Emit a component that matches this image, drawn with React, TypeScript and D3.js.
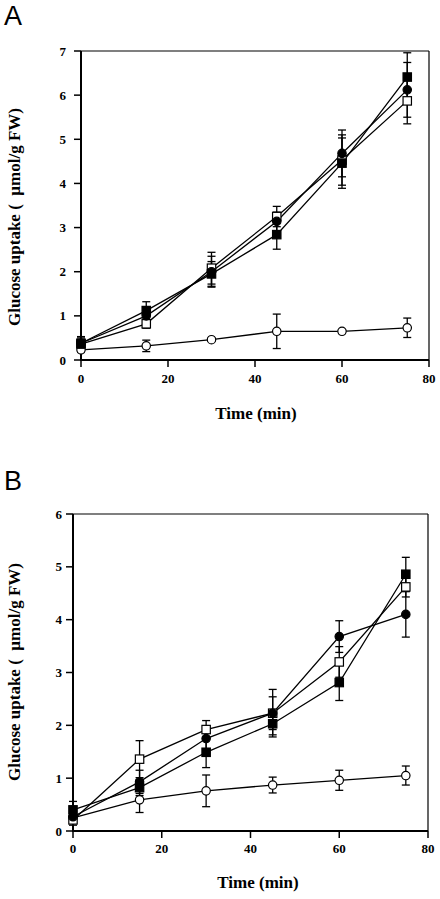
import React from "react";
import * as d3 from "d3";

const times = [0, 15, 30, 45, 60, 75];

// Panel A
const aFilledSquare = [0.38, 1.12, 1.95, 2.84, 4.46, 6.41];
const aFilledSquareErr = [0.15, 0.2, 0.28, 0.33, 0.57, 0.55];
const aFilledCircle = [0.38, 1.0, 2.0, 3.14, 4.68, 6.12];
const aFilledCircleErr = [0.12, 0.2, 0.35, 0.21, 0.53, 0.62];
const aOpenSquare = [0.36, 0.82, 2.08, 3.25, 4.53, 5.87];
const aOpenSquareErr = [0.1, 0.1, 0.36, 0.23, 0.57, 0.52];
const aOpenCircle = [0.23, 0.32, 0.46, 0.65, 0.65, 0.73];
const aOpenCircleErr = [0.05, 0.13, 0.03, 0.39, 0.03, 0.22];

// Panel B
const bFilledSquare = [0.4, 0.82, 1.49, 2.03, 2.81, 4.86];
const bFilledSquareErr = [0.16, 0.15, 0.29, 0.21, 0.34, 0.32];
const bFilledCircle = [0.27, 0.93, 1.75, 2.23, 3.68, 4.1];
const bFilledCircleErr = [0.1, 0.22, 0.2, 0.45, 0.3, 0.43];
const bOpenSquare = [0.21, 1.36, 1.92, 2.23, 3.2, 4.62];
const bOpenSquareErr = [0.1, 0.35, 0.17, 0.31, 0.29, 0.19];
const bOpenCircle = [0.25, 0.59, 0.76, 0.87, 0.96, 1.05];
const bOpenCircleErr = [0.1, 0.24, 0.3, 0.15, 0.19, 0.18];

const xTicks = [0, 20, 40, 60, 80];
const aYTicks = [0, 1, 2, 3, 4, 5, 6, 7];
const bYTicks = [0, 1, 2, 3, 4, 5, 6];

const yTitle = "Glucose uptake (\u2002µmol/g FW)";
const xTitle = "Time (min)";

type Series = { values: number[]; err: number[]; shape: "square" | "circle"; filled: boolean };

type PanelProps = {
  letter: string;
  letterY: number;
  left: number;
  right: number;
  top: number;
  bottom: number;
  yMax: number;
  yTicks: number[];
  series: Series[];
  xTickY: number;
  xTitleX: number;
  xTitleY: number;
  yTitleX: number;
  yTitleY: number;
  yTickX: number;
};

const serif = "'Liberation Serif', 'Times New Roman', serif";

function Panel(p: PanelProps) {
  const x = d3.scaleLinear().domain([0, 80]).range([p.left, p.right]);
  const y = d3.scaleLinear().domain([0, p.yMax]).range([p.bottom, p.top]);
  const line = d3
    .line<number>()
    .x((_, i) => x(times[i]))
    .y((d) => y(d));
  const ms = 4.2;
  return (
    <g>
      <text x={4} y={p.letterY} fontFamily="'Liberation Sans', Arial, sans-serif" fontSize={27}>
        {p.letter}
      </text>
      {/* frame */}
      <line x1={p.left} x2={p.right} y1={p.top} y2={p.top} stroke="#000" strokeWidth={1.2} />
      <line x1={p.right} x2={p.right} y1={p.top} y2={p.bottom} stroke="#000" strokeWidth={1.2} />
      <line x1={p.left} x2={p.left} y1={p.top} y2={p.bottom + 1} stroke="#000" strokeWidth={2} />
      <line x1={p.left - 1} x2={p.right} y1={p.bottom} y2={p.bottom} stroke="#000" strokeWidth={2} />
      {/* y ticks */}
      {p.yTicks.map((t) => (
        <g key={"y" + t}>
          <line x1={p.left - 7} x2={p.left} y1={y(t)} y2={y(t)} stroke="#000" strokeWidth={1.5} />
          <text
            x={p.yTickX}
            y={y(t) + 4.5}
            textAnchor="end"
            fontFamily={serif}
            fontWeight="bold"
            fontSize={13}
          >
            {t}
          </text>
        </g>
      ))}
      {xTicks.map((t) => (
        <g key={"x" + t}>
          <line x1={x(t)} x2={x(t)} y1={p.bottom} y2={p.bottom + 7} stroke="#000" strokeWidth={1.5} />
          <text x={x(t)} y={p.xTickY} textAnchor="middle" fontFamily={serif} fontWeight="bold" fontSize={13}>
            {t}
          </text>
        </g>
      ))}
      <text
        x={p.xTitleX}
        y={p.xTitleY}
        textAnchor="middle"
        fontFamily={serif}
        fontWeight="bold"
        fontSize={17}
      >
        {xTitle}
      </text>
      <text
        transform={`translate(${p.yTitleX},${p.yTitleY}) rotate(-90)`}
        textAnchor="middle"
        fontFamily={serif}
        fontWeight="bold"
        fontSize={17}
      >
        {yTitle}
      </text>
      {/* error bars */}
      {p.series.map((s, si) =>
        s.values.map((v, i) => {
          const cx = x(times[i]);
          const y1 = y(v - s.err[i]);
          const y2 = y(v + s.err[i]);
          return (
            <g key={`e${si}-${i}`} stroke="#000" strokeWidth={1.3}>
              <line x1={cx} x2={cx} y1={y1} y2={y2} />
              <line x1={cx - 4} x2={cx + 4} y1={y1} y2={y1} />
              <line x1={cx - 4} x2={cx + 4} y1={y2} y2={y2} />
            </g>
          );
        })
      )}
      {/* lines */}
      {p.series.map((s, si) => (
        <path key={"l" + si} d={line(s.values) || ""} fill="none" stroke="#000" strokeWidth={1.3} />
      ))}
      {/* markers */}
      {p.series.map((s, si) =>
        s.values.map((v, i) => {
          const cx = x(times[i]);
          const cy = y(v);
          const fill = s.filled ? "#000" : "#fff";
          return s.shape === "circle" ? (
            <circle key={`m${si}-${i}`} cx={cx} cy={cy} r={ms} fill={fill} stroke="#000" strokeWidth={1.2} />
          ) : (
            <rect
              key={`m${si}-${i}`}
              x={cx - ms}
              y={cy - ms}
              width={ms * 2}
              height={ms * 2}
              fill={fill}
              stroke="#000"
              strokeWidth={1.2}
            />
          );
        })
      )}
    </g>
  );
}

export default function App() {
  const seriesA: Series[] = [
    { values: aOpenCircle, err: aOpenCircleErr, shape: "circle", filled: false },
    { values: aOpenSquare, err: aOpenSquareErr, shape: "square", filled: false },
    { values: aFilledCircle, err: aFilledCircleErr, shape: "circle", filled: true },
    { values: aFilledSquare, err: aFilledSquareErr, shape: "square", filled: true },
  ];
  const seriesB: Series[] = [
    { values: bOpenCircle, err: bOpenCircleErr, shape: "circle", filled: false },
    { values: bOpenSquare, err: bOpenSquareErr, shape: "square", filled: false },
    { values: bFilledCircle, err: bFilledCircleErr, shape: "circle", filled: true },
    { values: bFilledSquare, err: bFilledSquareErr, shape: "square", filled: true },
  ];
  return (
    <svg
      width={440}
      height={899}
      style={{ position: "absolute", left: 0, top: 0, background: "#fff" }}
    >
      <rect width={440} height={899} fill="#fff" />
      <Panel
        letter="A"
        letterY={25}
        left={81}
        right={429}
        top={51}
        bottom={360}
        yMax={7}
        yTicks={aYTicks}
        series={seriesA}
        xTickY={383}
        xTitleX={256}
        xTitleY={419}
        yTitleX={20}
        yTitleY={217}
        yTickX={66}
      />
      <Panel
        letter="B"
        letterY={490}
        left={73}
        right={428}
        top={514}
        bottom={831}
        yMax={6}
        yTicks={bYTicks}
        series={seriesB}
        xTickY={853}
        xTitleX={258}
        xTitleY={888}
        yTitleX={20}
        yTitleY={672}
        yTickX={62}
      />
    </svg>
  );
}
